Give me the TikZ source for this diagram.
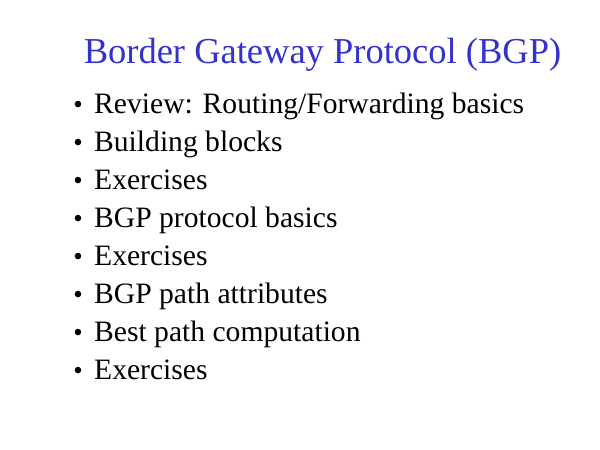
\documentclass[tikz,border=0pt]{standalone}
\usepackage{fontspec}
\setmainfont{Liberation Serif}
\definecolor{titleblue}{HTML}{3333CC}
\tikzset{
  titletext/.style={anchor=base, inner sep=0pt, text=titleblue, font=\fontsize{36.5}{42}\selectfont},
  itemtext/.style={anchor=base west, inner sep=0pt, font=\fontsize{29.6}{34}\selectfont},
  bullettext/.style={anchor=base, inner sep=0pt, font=\fontsize{27}{32}\selectfont}
}
\begin{document}
\begin{tikzpicture}[x=1pt,y=-1pt]
\useasboundingbox[fill=white] (0,0) rectangle (600,450);
\node[titletext] (title) at (322.5,63) {Border Gateway Protocol (BGP)};
\foreach \t [count=\i] in {Review: Routing/Forwarding basics, Building blocks, Exercises, BGP protocol basics, Exercises, BGP path attributes, Best path computation, Exercises}{
  \pgfmathsetmacro{\yy}{113+38*(\i-1)}
  \node[bullettext] (b\i) at (78,\yy) {\textbullet};
  \node[itemtext] (t\i) at (94,\yy) {\t};
}
\end{tikzpicture}
\end{document}
